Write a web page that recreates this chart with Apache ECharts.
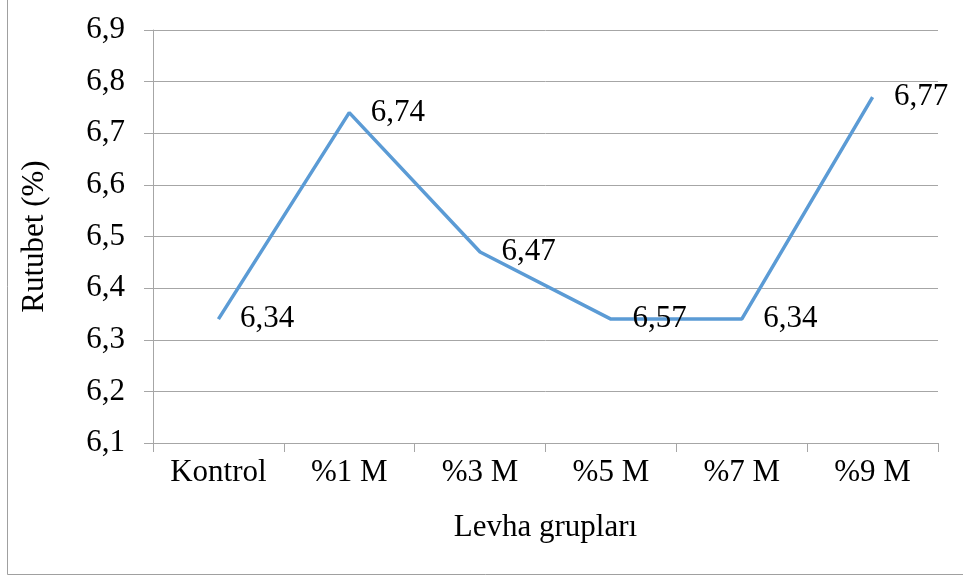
<!DOCTYPE html>
<html>
<head>
<meta charset="utf-8">
<script src="https://cdn.jsdelivr.net/npm/echarts@6/dist/echarts.min.js"></script>
<style>html,body{margin:0;padding:0;background:#fff;}#c{width:963px;height:579px;}</style>
</head>
<body>
<div id="c"></div>
<script>
const categories = ["Kontrol", "%1 M", "%3 M", "%5 M", "%7 M", "%9 M"];
const values = [6.34, 6.74, 6.47, 6.34, 6.34, 6.77];
const labelTexts = ["6,34", "6,74", "6,47", "6,57", "6,34", "6,77"];
const yMin = 6.1, yMax = 6.9, yStep = 0.1;

const font = "'Liberation Serif', 'Times New Roman', serif";
const gray = '#A6A6A6';
const chart = echarts.init(document.getElementById('c'));
chart.setOption({
  animation: false,
  backgroundColor: '#fff',
  graphic: [{
    type: 'rect', shape: {x: 7.5, y: -10, width: 970, height: 584.5},
    style: {fill: 'none', stroke: '#A0A0A0', lineWidth: 1}, silent: true
  }],
  grid: {left: 153, right: 25, top: 30, bottom: 136},
  xAxis: {
    type: 'category', data: categories, boundaryGap: true,
    name: 'Levha grupları', nameLocation: 'middle', nameGap: 69,
    nameTextStyle: {fontFamily: font, fontSize: 31, color: '#000'},
    axisLine: {show: true, lineStyle: {color: gray, width: 1}},
    axisTick: {show: true, length: 9, lineStyle: {color: gray}},
    axisLabel: {fontFamily: font, fontSize: 31, color: '#000', margin: 14},
    splitLine: {show: false}
  },
  yAxis: {
    type: 'value', min: yMin, max: yMax, interval: yStep,
    name: 'Rutubet (%)', nameLocation: 'middle', nameGap: 103, nameRotate: 90,
    nameTextStyle: {fontFamily: font, fontSize: 31, color: '#000'},
    axisLine: {show: true, lineStyle: {color: gray, width: 1}},
    axisTick: {show: true, length: 9, lineStyle: {color: gray}},
    axisLabel: {fontFamily: font, fontSize: 31, color: '#000', margin: 28,
      formatter: v => v.toFixed(1).replace('.', ',')},
    splitLine: {show: true, lineStyle: {color: gray, width: 1}}
  },
  series: [{
    type: 'line', data: values,
    showSymbol: true, symbol: 'circle', symbolSize: 1,
    itemStyle: {color: 'rgba(0,0,0,0)', borderWidth: 0},
    lineStyle: {color: '#5B9BD5', width: 3.5},
    label: {show: true, position: 'right', distance: 21,
      fontFamily: font, fontSize: 31, color: '#000',
      formatter: p => labelTexts[p.dataIndex]}
  }]
});
</script>
</body>
</html>
